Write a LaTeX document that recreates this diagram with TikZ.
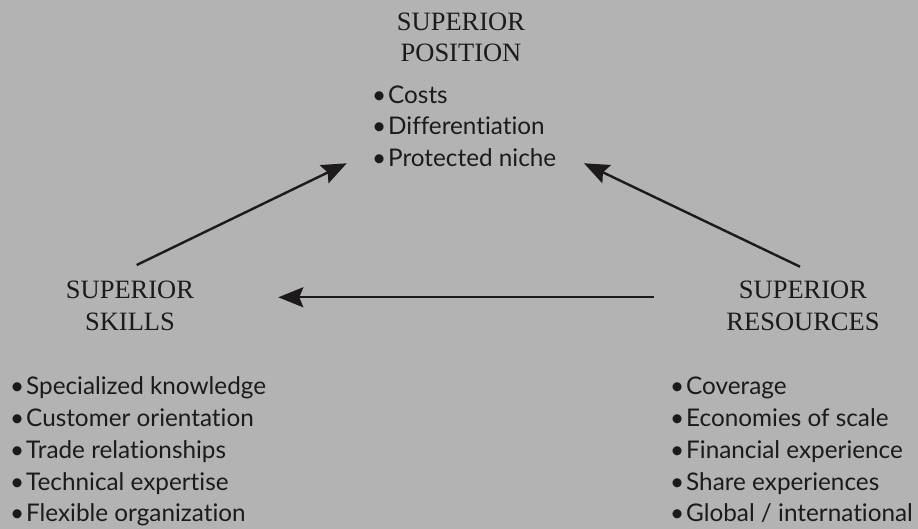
\documentclass[tikz,border=0pt]{standalone}
\usepackage{fontspec}
\setmainfont{Liberation Serif}
\newfontfamily\listfont[Ligatures=CommonOff]{Lato}
\usetikzlibrary{arrows.meta}

\definecolor{panel}{HTML}{B3B3B3}
\definecolor{ink}{HTML}{1C1A1B}

\newcommand{\itm}[1]{\makebox[16pt][l]{\textbullet}#1}

% multi-line nodes sit on the baseline of their last line
\tikzset{
  heading/.style={align=center, inner sep=0pt, anchor=base, text=ink,
    font=\fontsize{26.5}{31.5}\selectfont},
  bullets/.style={align=left, inner sep=0pt, anchor=base west, text=ink,
    font=\listfont\fontsize{24.3}{31.7}\selectfont},
  link/.style={draw=ink, line width=2.4pt,
    -{Stealth[length=25pt, width=20pt, inset=4pt]}}
}

\begin{document}
\begin{tikzpicture}[x=1pt, y=-1pt]
  % page and background
  \fill[panel] (0,0) rectangle (918,529);
  \useasboundingbox (0,0) rectangle (918,529);

  % headings
  \node[heading] (position)  at (461,61.7) {SUPERIOR\\POSITION};
  \node[heading] (skills)    at (130,330)  {SUPERIOR\\SKILLS};
  \node[heading] (resources) at (803,330)  {SUPERIOR\\RESOURCES};

  % bullet lists
  \node[bullets] (poslist) at (372,166.7) {%
    \itm{Costs}\\
    \itm{Differentiation}\\
    \itm{Protected niche}};
  \node[bullets] (skilllist) at (10,521.7) {%
    \itm{Specialized knowledge}\\
    \itm{Customer orientation}\\
    \itm{Trade relationships}\\
    \itm{Technical expertise}\\
    \itm{Flexible organization}};
  \node[bullets] (reslist) at (670,521.7) {%
    \itm{Coverage}\\
    \itm{Economies of scale}\\
    \itm{Financial experience}\\
    \itm{Share experiences}\\
    \itm{Global / international}};

  % arrow end points
  \coordinate (skOut)   at (136.7,265);
  \coordinate (posInL)  at (346.7,163.3);
  \coordinate (resOut)  at (800,266.7);
  \coordinate (posInR)  at (584,163.3);
  \coordinate (resOutH) at (654.3,297.3);
  \coordinate (skIn)    at (278.3,297.3);

  % connectors
  \draw[link] (skOut) -- (posInL);
  \draw[link] (resOut) -- (posInR);
  \draw[link] (resOutH) -- (skIn);
\end{tikzpicture}
\end{document}
